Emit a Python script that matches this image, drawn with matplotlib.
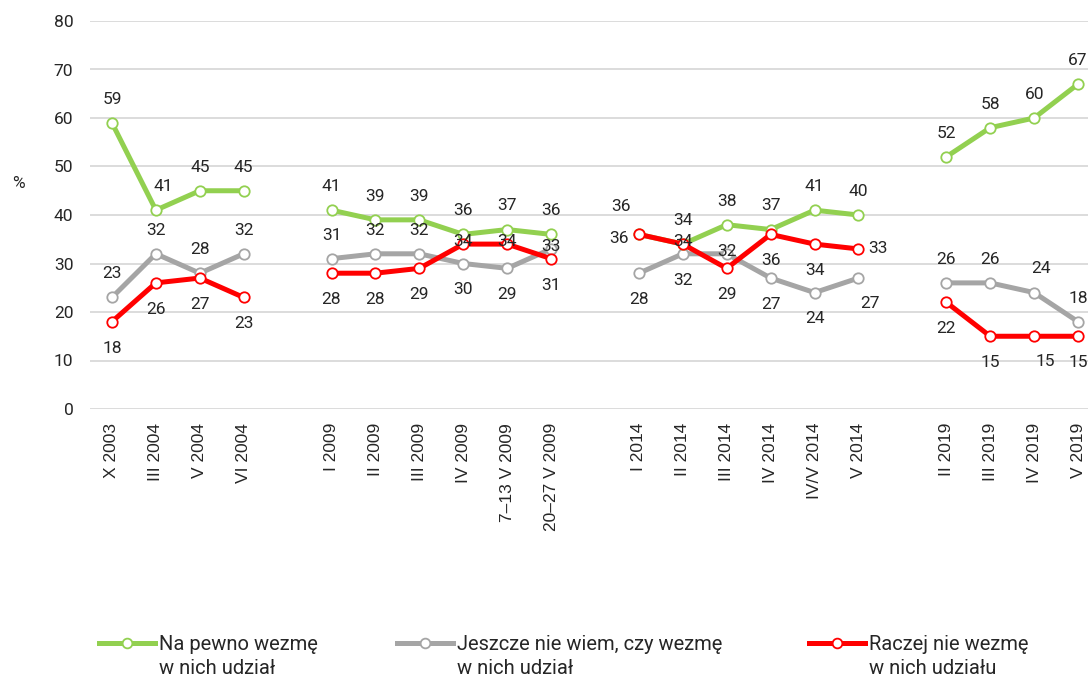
import numpy as np
import matplotlib.pyplot as plt
from matplotlib.lines import Line2D

nan = np.nan

# survey waves (empty strings = gaps between groups)
waves = ['X 2003', 'III 2004', 'V 2004', 'VI 2004', '',
         'I 2009', 'II 2009', 'III 2009', 'IV 2009', '7–13 V 2009', '20–27 V 2009', '',
         'I 2014', 'II 2014', 'III 2014', 'IV 2014', 'IV/V 2014', 'V 2014', '',
         'II 2019', 'III 2019', 'IV 2019', 'V 2019']

na_pewno = [59, 41, 45, 45, nan,
            41, 39, 39, 36, 37, 36, nan,
            36, 34, 38, 37, 41, 40, nan,
            52, 58, 60, 67]
nie_wiem = [23, 32, 28, 32, nan,
            31, 32, 32, 30, 29, 33, nan,
            28, 32, 32, 27, 24, 27, nan,
            26, 26, 24, 18]
raczej_nie = [18, 26, 27, 23, nan,
              28, 28, 29, 34, 34, 31, nan,
              36, 34, 29, 36, 34, 33, nan,
              22, 15, 15, 15]

series_names = ['Na pewno wezmę\nw nich udział',
                'Jeszcze nie wiem, czy wezmę\nw nich udział',
                'Raczej nie wezmę\nw nich udziału']

# where each value label sits relative to its point
green_pos = ['a', 'ar', 'a', 'a', None, 'a', 'a', 'a', 'a', 'a', 'a', None,
             'al', 'a', 'a', 'a', 'a', 'a', None, 'a', 'a', 'a', 'a']
gray_pos = ['a', 'a', 'a', 'a', None, 'a', 'a', 'a', 'b', 'b', 'c', None,
            'b', 'b', 'c', 'b', 'b', 'br', None, 'a', 'a', 'ar', 'a']
red_pos = ['b', 'b', 'b', 'b', None, 'b', 'b', 'b', 'c', 'c', 'b', None,
           'l', 'c', 'b', 'b', 'b', 'r', None, 'b', 'b', 'br', 'b']
offsets = {'a': (0, 17), 'ar': (5, 17), 'al': (-13, 20), 'b': (0, -19),
           'br': (8, -18), 'c': (0, 2), 'l': (-14, -3), 'r': (14, 0)}

GREEN = '#92D050'
GRAY = '#A5A5A5'
RED = '#FF0000'
TXT = '#262626'

plt.rcParams['font.family'] = ['Roboto', 'DejaVu Sans']

W, H = 1088, 677
fig = plt.figure(figsize=(W / 100, H / 100), dpi=100)
ax = fig.add_axes([90 / W, (H - 409) / H, (1100 - 90) / W, (409 - 21) / H])

x = np.arange(len(waves))
for vals, pos, col in [(nie_wiem, gray_pos, GRAY), (na_pewno, green_pos, GREEN),
                       (raczej_nie, red_pos, RED)]:
    ax.plot(x, vals, '-o', color=col, lw=3.6, ms=7.5, mfc='white', mec=col,
            mew=1.3, zorder=3)
    for i, v in enumerate(vals):
        if pos[i] is None or np.isnan(v):
            continue
        ax.annotate(f'{v:.0f}', (i, v), xytext=offsets[pos[i]], textcoords='offset points',
                    ha='center', va='center', fontsize=12.5, color=TXT, zorder=5,
                    annotation_clip=False)

ax.set_xlim(-0.5, len(waves) - 0.5)
ax.set_ylim(0, 80)
ax.set_yticks(range(0, 81, 10))
ax.yaxis.grid(True, color='#D9D9D9', lw=1.3)
ax.set_axisbelow(True)
for s in ax.spines.values():
    s.set_visible(False)
ax.tick_params(axis='both', length=0, labelsize=12.5, labelcolor=TXT)
ax.tick_params(axis='y', pad=12)
ax.set_xticks(x)
ax.set_xticklabels(waves, rotation=90, family='Liberation Sans', fontsize=12.5)
ax.tick_params(axis='x', pad=10)

fig.text(18 / W, (H - 183) / H, '%', fontsize=12.5, color=TXT, ha='center', va='center')

# legend drawn by hand so the handle lines up with the first text line
for (hx, tx), col, name in zip([(99, 159), (397, 457), (809, 869)], [GREEN, GRAY, RED], series_names):
    yl = (H - 643) / H
    fig.add_artist(Line2D([hx / W, (hx + 56) / W], [yl, yl], transform=fig.transFigure,
                          color=col, lw=3.6))
    fig.add_artist(Line2D([(hx + 28) / W], [yl], transform=fig.transFigure, marker='o',
                          ms=7, mfc='white', mec=col, mew=1.3))
    first, second = name.split('\n')
    fig.text(tx / W, (H - 645) / H, first, fontsize=14.5, color=TXT, va='center')
    fig.text(tx / W, (H - 668) / H, second, fontsize=14.5, color=TXT, va='center')

fig.savefig('out.png', dpi=100)
